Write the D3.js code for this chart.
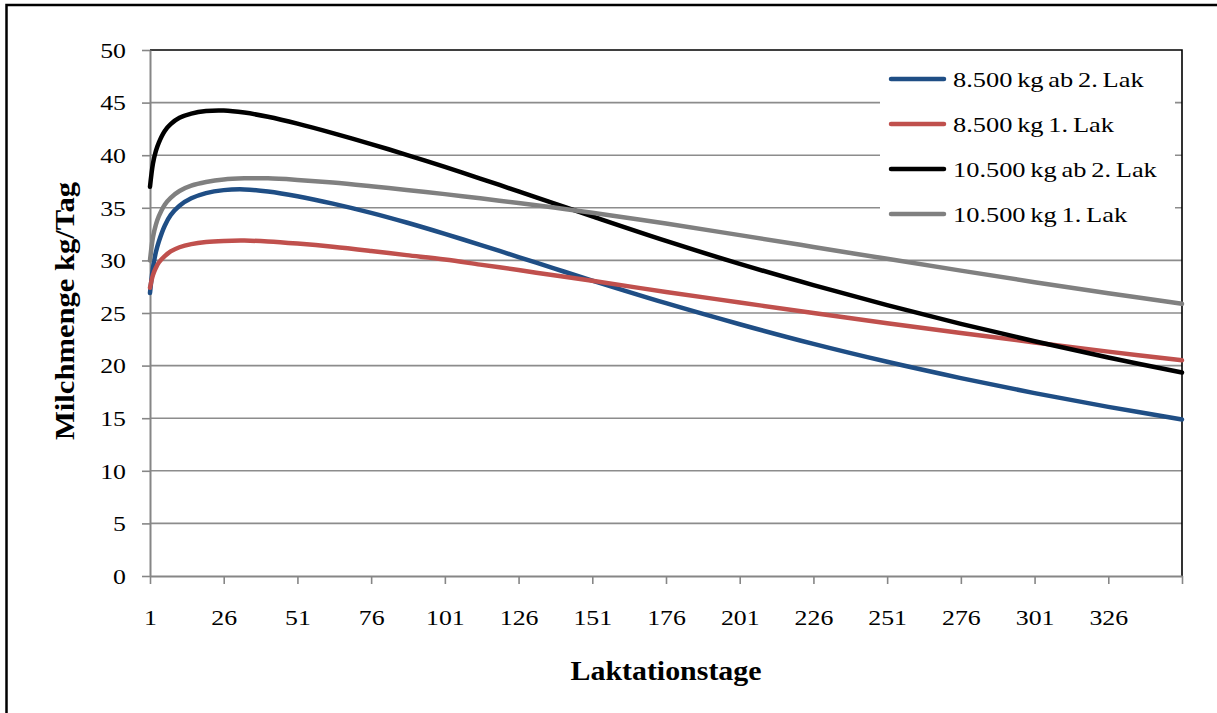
<!DOCTYPE html>
<html>
<head>
<meta charset="utf-8">
<script src="https://cdn.jsdelivr.net/npm/d3@7"></script>
<style>
  html, body { margin: 0; padding: 0; background: #fff; }
  svg { display: block; font-family: "Liberation Serif", "Times New Roman", serif; }
</style>
</head>
<body>
<svg id="chart" width="1217" height="713"></svg>
<script>
// ---- data ----
const days = [1, 2, 3, 4, 6, 8, 11, 15, 20, 26, 33, 41, 51, 63, 76, 88, 101, 113, 126, 138, 151, 176, 201, 226, 251, 276, 301, 326, 351];
const seriesNames = ["8.500 kg ab 2. Lak", "8.500 kg 1. Lak", "10.500 kg ab 2. Lak", "10.500 kg 1. Lak"];
const blue8500ab2 = [26.9, 29.3, 30.8, 31.8, 33.3, 34.3, 35.2, 35.9, 36.4, 36.68, 36.75, 36.55, 36.1, 35.4, 34.52, 33.6, 32.52, 31.48, 30.32, 29.24, 28.08, 25.93, 23.93, 22.06, 20.36, 18.81, 17.38, 16.08, 14.88];
const red8500l1 = [27.4, 28.6, 29.3, 29.8, 30.4, 30.85, 31.25, 31.55, 31.75, 31.85, 31.88, 31.8, 31.6, 31.3, 30.9, 30.5, 30.08, 29.6, 29.08, 28.58, 28.06, 27.0, 26.0, 25.0, 24.03, 23.1, 22.2, 21.33, 20.5];
const black10500ab2 = [37.0, 39.2, 40.4, 41.2, 42.3, 42.95, 43.55, 43.95, 44.2, 44.25, 44.05, 43.65, 43.0, 42.1, 41.06, 40.04, 38.88, 37.78, 36.56, 35.42, 34.18, 31.85, 29.67, 27.65, 25.75, 23.97, 22.32, 20.77, 19.35];
const gray10500l1 = [30.0, 32.2, 33.4, 34.2, 35.3, 35.95, 36.6, 37.1, 37.45, 37.7, 37.8, 37.8, 37.65, 37.4, 37.05, 36.7, 36.3, 35.9, 35.45, 35.02, 34.53, 33.5, 32.4, 31.28, 30.15, 29.03, 27.93, 26.88, 25.87];
const seriesColors = ["#1F4E85", "#C0504D", "#000000", "#808080"];
const xTickValues = [1, 26, 51, 76, 101, 126, 151, 176, 201, 226, 251, 276, 301, 326, 351];
const xTickLabels = ["1", "26", "51", "76", "101", "126", "151", "176", "201", "226", "251", "276", "301", "326", ""];
const yTickValues = [0, 5, 10, 15, 20, 25, 30, 35, 40, 45, 50];
const xTitle = "Laktationstage";
const yTitle = "Milchmenge kg/Tag";

const allSeries = [blue8500ab2, red8500l1, black10500ab2, gray10500l1];

// ---- layout ----
const svg = d3.select("#chart");
const X0 = 150, X1 = 1182, Y0 = 576, Y1 = 50;
const x = d3.scaleLinear().domain([1, 351]).range([X0, X1]);
const y = d3.scaleLinear().domain([0, 50]).range([Y0, Y1]);
const SX = 1.2; // horizontal text stretch seen in reference

// outer frame
svg.append("rect").attr("x", 6.5).attr("y", 5).attr("width", 1240).attr("height", 740)
  .attr("fill", "none").attr("stroke", "#000").attr("stroke-width", 2.5);

// gridlines
svg.append("g").selectAll("line").data(yTickValues.filter(v => v > 0 && v < 50)).join("line")
  .attr("x1", X0).attr("x2", X1).attr("y1", d => y(d)).attr("y2", d => y(d))
  .attr("stroke", "#8C8C8C").attr("stroke-width", 1.6);

// plot border top/right (black)
svg.append("path").attr("d", `M${X0},${y(50)}H${X1}V${Y0}`)
  .attr("fill", "none").attr("stroke", "#000").attr("stroke-width", 1.6);

// y axis
const gy = svg.append("g").attr("transform", `translate(${X0},0)`)
  .call(d3.axisLeft(y).tickValues(yTickValues).tickSize(8).tickSizeOuter(0));
gy.select(".domain").attr("stroke", "#868686").attr("stroke-width", 2);
gy.selectAll(".tick line").attr("stroke", "#868686").attr("stroke-width", 1.6);
gy.selectAll(".tick text").attr("font-family", "Liberation Serif").attr("font-size", 21.5)
  .attr("fill", "#000").attr("x", -24 / SX).attr("dy", "0.34em").attr("transform", `scale(${SX},1)`);

// x axis
const gx = svg.append("g").attr("transform", `translate(0,${Y0})`)
  .call(d3.axisBottom(x).tickValues(xTickValues).tickSize(8).tickSizeOuter(0)
    .tickFormat((d, i) => xTickLabels[i]));
gx.select(".domain").attr("stroke", "#868686").attr("stroke-width", 2);
gx.selectAll(".tick line").attr("stroke", "#868686").attr("stroke-width", 1.6);
gx.selectAll(".tick text").attr("font-family", "Liberation Serif").attr("font-size", 21.5)
  .attr("fill", "#000").attr("y", 34).attr("dy", "0.71em").attr("transform", `scale(${SX},1)`);

// series lines
const line = d3.line().x((d, i) => x(days[i])).y(d => y(d)).curve(d3.curveCatmullRom.alpha(0.5));
svg.append("g").selectAll("path").data(allSeries).join("path")
  .attr("d", d => line(d))
  .attr("fill", "none")
  .attr("stroke", (d, i) => seriesColors[i])
  .attr("stroke-width", 4.5)
  .attr("stroke-linecap", "round")
  .attr("stroke-linejoin", "round");

// legend
const lg = svg.append("g");
lg.append("rect").attr("x", 880).attr("y", 56).attr("width", 295).attr("height", 180).attr("fill", "#fff");
const rowY = [79, 124, 169, 214];
const items = lg.selectAll("g.item").data(seriesNames).join("g").attr("class", "item");
items.append("line").attr("x1", 891).attr("x2", 944)
  .attr("y1", (d, i) => rowY[i]).attr("y2", (d, i) => rowY[i])
  .attr("stroke", (d, i) => seriesColors[i]).attr("stroke-width", 4.5).attr("stroke-linecap", "round");
items.append("text")
  .attr("transform", (d, i) => `translate(953,${rowY[i] + 7.5}) scale(${SX},1)`)
  .attr("font-size", 22).attr("fill", "#000").attr("word-spacing", -1.5)
  .text(d => d);

// axis titles
svg.append("text").attr("x", 666).attr("y", 680).attr("text-anchor", "middle")
  .attr("font-size", 27).attr("font-weight", "bold").attr("fill", "#000")
  .attr("textLength", 191).attr("lengthAdjust", "spacingAndGlyphs")
  .text(xTitle);
svg.append("text").attr("transform", "translate(74,311) rotate(-90)").attr("text-anchor", "middle")
  .attr("font-size", 27).attr("font-weight", "bold").attr("fill", "#000")
  .attr("textLength", 258).attr("lengthAdjust", "spacingAndGlyphs")
  .text(yTitle);
</script>
</body>
</html>
